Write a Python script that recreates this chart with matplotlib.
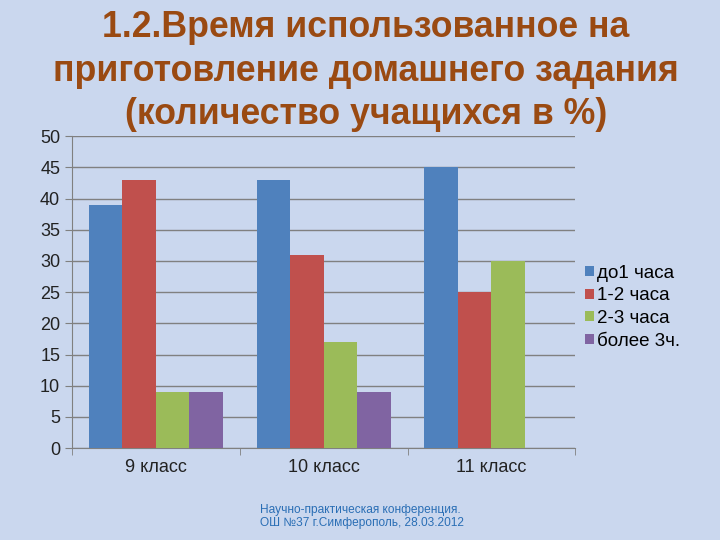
import matplotlib
matplotlib.use("Agg")
import matplotlib.pyplot as plt
import numpy as np

categories = ["9 класс", "10 класс", "11 класс"]
series_names = ["до1 часа", "1-2 часа", "2-3 часа", "более 3ч."]
v_do1 = [39, 43, 45]
v_1_2 = [43, 31, 25]
v_2_3 = [9, 17, 30]
v_3plus = [9, 9, 0]
yticks = list(range(0, 55, 5))

colors = ["#4F81BD", "#C0504D", "#9BBB59", "#8064A2"]
bg = "#CAD7EE"

plt.rcParams['font.family'] = ['Liberation Sans', 'DejaVu Sans']
fig = plt.figure(figsize=(7.2, 5.4), dpi=100, facecolor=bg)
ax = fig.add_axes([0.100, 0.170, 0.699, 0.578])
ax.set_facecolor('none')

x = np.arange(len(categories))
w = 0.2
all_vals = [v_do1, v_1_2, v_2_3, v_3plus]
for i, (vals, name, c) in enumerate(zip(all_vals, series_names, colors)):
    ax.bar(x - 0.3 + i * w, vals, width=w, color=c, label=name, zorder=3)

ax.set_xlim(-0.5, 2.5)
ax.set_ylim(0, 50)
ax.set_yticks(yticks)
ax.set_xticks(x)
ax.set_xticklabels(categories)
ax.set_xticks([-0.5, 0.5, 1.5, 2.5], minor=True)
ax.tick_params(axis='x', which='major', length=0, labelsize=13, pad=8, colors='#222222')
ax.tick_params(axis='x', which='minor', length=5, color='#808080')
ax.tick_params(axis='y', labelsize=13, length=5, color='#808080', colors='#222222')
ax.grid(axis='y', color='#808080', linewidth=1, zorder=0)
for s in ['top', 'right']:
    ax.spines[s].set_visible(False)
for s in ['left', 'bottom']:
    ax.spines[s].set_color('#808080')

leg = ax.legend(loc='center left', bbox_to_anchor=(1.005, 0.452), frameon=False,
                fontsize=13.5, handlelength=0.45, handleheight=0.45, handletextpad=0.2,
                labelspacing=0.3, borderaxespad=0)

fig.text(0.508, 0.981, "1.2.Время использованное на\nприготовление домашнего задания\n(количество учащихся в %)",
         ha='center', va='top', fontsize=25.7, fontweight='bold', color='#9A4A12',
         linespacing=1.31)

fig.text(0.361, 0.043, "Научно-практическая конференция.\nОШ №37 г.Симферополь, 28.03.2012",
         ha='left', va='center', fontsize=8.6, color='#2A6EB5', linespacing=1.1)

fig.savefig("out.png", dpi=100, facecolor=bg)
